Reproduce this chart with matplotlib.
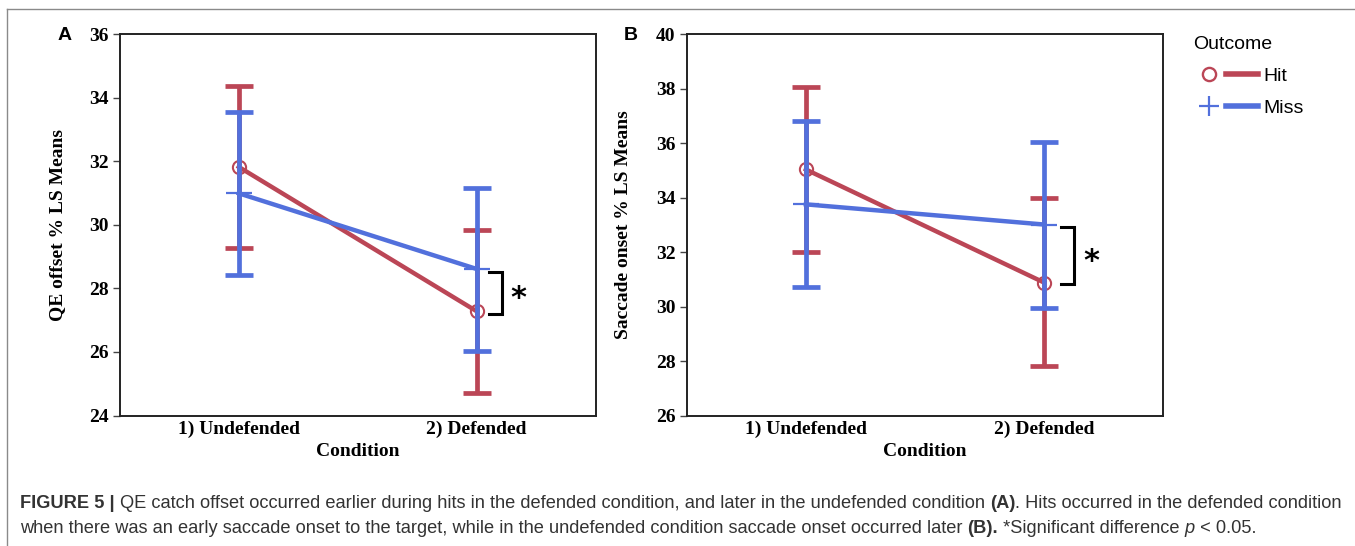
import matplotlib
matplotlib.use("Agg")
import matplotlib.pyplot as plt
from matplotlib.lines import Line2D
from matplotlib.legend_handler import HandlerTuple
import numpy as np

# ---------------- data ----------------
conditions = ["1) Undefended", "2) Defended"]
outcomes = ["Hit", "Miss"]

# Panel A: QE offset % (LS means with 95% CI)
qe_hit_mean = [31.82, 27.28]
qe_hit_low = [29.27, 24.72]
qe_hit_high = [34.38, 29.84]
qe_miss_mean = [30.99, 28.61]
qe_miss_low = [28.42, 26.04]
qe_miss_high = [33.54, 31.15]

# Panel B: Saccade onset % (LS means with 95% CI)
sac_hit_mean = [35.03, 30.88]
sac_hit_low = [32.02, 27.82]
sac_hit_high = [38.07, 33.97]
sac_miss_mean = [33.75, 33.01]
sac_miss_low = [30.72, 29.95]
sac_miss_high = [36.81, 36.05]

yticks_a = [24, 26, 28, 30, 32, 34, 36]
yticks_b = [26, 28, 30, 32, 34, 36, 38, 40]

RED = "#BB4656"
BLUE = "#5270DC"
SERIF = "Liberation Serif"
SANS = "Liberation Sans"
FS = 14

fig = plt.figure(figsize=(13.55, 5.46), dpi=100)
W, H = 1355, 546


def px_axes(l, t, r, b):
    return fig.add_axes([l / W, 1 - b / H, (r - l) / W, (b - t) / H])


ax_a = px_axes(119.8, 34, 595.7, 415.6)
ax_b = px_axes(686.7, 34, 1163.3, 415.6)


def draw_panel(ax, hm, hl, hh, mm, ml, mh, ylim, yticks, ylabel, brx, starx,
               ylab_x):
    x = np.arange(len(conditions))
    hm, hl, hh = map(np.asarray, (hm, hl, hh))
    mm, ml, mh = map(np.asarray, (mm, ml, mh))
    # Hit
    ax.errorbar(x, hm, yerr=[hm - hl, hh - hm], fmt="none", ecolor=RED,
                elinewidth=3.4, capsize=10.4, capthick=3.4, zorder=2)
    ax.plot(x, hm, color=RED, lw=3.2, zorder=3)
    ax.plot(x, hm, ls="none", marker="o", ms=9.5, mfc="none", mec=RED,
            mew=1.5, zorder=3)
    # Miss
    ax.errorbar(x, mm, yerr=[mm - ml, mh - mm], fmt="none", ecolor=BLUE,
                elinewidth=3.4, capsize=10.4, capthick=3.4, zorder=4)
    ax.plot(x, mm, color=BLUE, lw=3.2, zorder=4)
    ax.plot(x, mm, ls="none", marker="+", ms=19, mec=BLUE, mew=1.6,
            zorder=4)
    # significance bracket at defended condition
    top = mm[1] - 0.1
    bot = hm[1] - 0.07
    ax.plot([brx[0], brx[1], brx[1], brx[0]], [top, top, bot, bot],
            color="black", lw=2.2, solid_joinstyle="miter", zorder=5)
    ax.annotate("*", xy=(starx, (top + bot) / 2), xytext=(0, -4),
                textcoords="offset points", fontsize=22, fontweight="bold",
                family="DejaVu Sans", ha="center", va="center")

    ax.set_xlim(-0.5, 1.5)
    ax.set_ylim(*ylim)
    ax.set_yticks(yticks)
    ax.set_yticklabels([str(t) for t in yticks], family=SERIF,
                       fontweight="bold", fontsize=FS)
    ax.set_xticks(x)
    ax.set_xticklabels(conditions, family=SERIF, fontweight="bold",
                       fontsize=FS)
    ax.tick_params(axis="x", length=0, pad=4)
    ax.tick_params(axis="y", length=5, width=1, pad=3, color="#444444")
    ax.set_xlabel("Condition", family=SERIF, fontweight="bold", fontsize=FS,
                  labelpad=3)
    ax.set_ylabel(ylabel, family=SERIF, fontweight="bold", fontsize=FS)
    ax.yaxis.set_label_coords(ylab_x, 0.5)
    for s in ax.spines.values():
        s.set_linewidth(1.4)
        s.set_color("#222222")


draw_panel(ax_a, qe_hit_mean, qe_hit_low, qe_hit_high,
           qe_miss_mean, qe_miss_low, qe_miss_high,
           (24, 36), yticks_a, "QE offset % LS Means",
           (1.05, 1.106), 1.173, -0.113)
draw_panel(ax_b, sac_hit_mean, sac_hit_low, sac_hit_high,
           sac_miss_mean, sac_miss_low, sac_miss_high,
           (26, 40), yticks_b, "Saccade onset % LS Means",
           (1.069, 1.125), 1.2, -0.1156)

# panel letters
fig.text(64.5 / W, 1 - 35 / H, "A", family=SANS, fontweight="bold",
         fontsize=14, ha="center", va="center")
fig.text(631 / W, 1 - 35 / H, "B", family=SANS, fontweight="bold",
         fontsize=14, ha="center", va="center")

# legend
h_hit = (Line2D([], [], ls="none", marker="o", ms=9.5, mfc="none", mec=RED,
                mew=1.7),
         Line2D([], [], color=RED, lw=4))
h_miss = (Line2D([], [], ls="none", marker="+", ms=14, mec=BLUE, mew=1.6),
          Line2D([], [], color=BLUE, lw=4))
leg = fig.legend([h_hit, h_miss], outcomes, title="Outcome",
                 handler_map={tuple: HandlerTuple(ndivide=None, pad=0.05)},
                 loc="upper left", bbox_to_anchor=(1185 / W, 1 - 28 / H),
                 borderaxespad=0, frameon=False, handlelength=3.34,
                 handletextpad=0.28, labelspacing=0.75,
                 prop={"family": SANS, "size": 14},
                 title_fontproperties={"family": SANS, "size": 14},
                 alignment="left")

# border lines (top and left)
fig.add_artist(Line2D([7 / W, 7 / W], [0, 1 - 9 / H], transform=fig.transFigure,
                      color="#8a8a8a", lw=1))
fig.add_artist(Line2D([7 / W, 1], [1 - 9 / H, 1 - 9 / H],
                      transform=fig.transFigure, color="#8a8a8a", lw=1))

# caption with mixed styles
CAP_COL = "#333333"
CAP_SIZE = 13.15

fig.canvas.draw()
r = fig.canvas.get_renderer()


def chain(x_px, base_px, parts):
    xcur = x_px
    for txt, style in parts:
        kw = dict(family=SANS, fontsize=CAP_SIZE, color=CAP_COL,
                  ha="left", va="baseline")
        if style == "b":
            kw["fontweight"] = "bold"
        elif style == "i":
            kw["fontstyle"] = "italic"
        t = fig.text(xcur / W, 1 - base_px / H, txt, **kw)
        bb = t.get_window_extent(renderer=r)
        xcur += bb.width


line1 = [("FIGURE 5 | ", "b"),
         ("QE catch offset occurred earlier during hits in the defended "
          "condition, and later in the undefended condition ", ""),
         ("(A)", "b"),
         (". Hits occurred in the defended condition", "")]
line2 = [("when there was an early saccade onset to the target, while in the "
          "undefended condition saccade onset occurred later ", ""),
         ("(B).", "b"),
         (" *Significant difference ", ""),
         ("p", "i"),
         (" < 0.05.", "")]
chain(20, 508, line1)
chain(20, 533, line2)

fig.savefig("out.png", dpi=100)
